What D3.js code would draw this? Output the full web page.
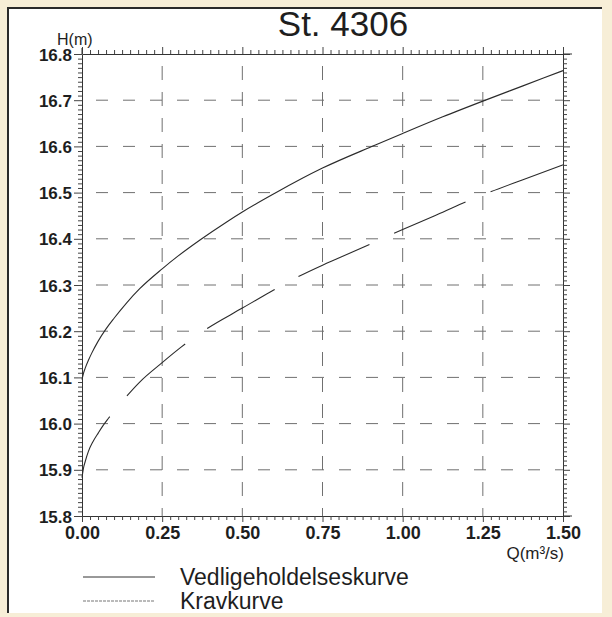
<!DOCTYPE html>
<html>
<head>
<meta charset="utf-8">
<script src="https://cdn.jsdelivr.net/npm/d3@7/dist/d3.min.js"></script>
<style>
  html, body { margin: 0; padding: 0; background: #f7eed7; }
  svg { display: block; }
  text { font-family: "Liberation Sans", Arial, sans-serif; fill: #1e1e1e; }
</style>
</head>
<body>
<svg id="chart" width="612" height="617"></svg>
<script>
// ---- data ----
const title = "St. 4306";
const seriesNames = ["Vedligeholdelseskurve", "Kravkurve"];

const qVed = [0, 0.005, 0.01, 0.02, 0.03, 0.05, 0.075, 0.1, 0.14, 0.18, 0.25, 0.3, 0.369, 0.45, 0.5, 0.6, 0.75, 0.915, 1.0, 1.125, 1.25, 1.375, 1.5];
const hVed = [16.095, 16.11, 16.12, 16.137, 16.152, 16.178, 16.205, 16.228, 16.262, 16.292, 16.335, 16.363, 16.398, 16.436, 16.458, 16.498, 16.553, 16.603, 16.628, 16.664, 16.698, 16.731, 16.764];

const qKrav = [0, 0.005, 0.01, 0.02, 0.035, 0.051, 0.065, 0.082, 0.1, 0.14, 0.18, 0.25, 0.31, 0.384, 0.5, 0.587, 0.66, 0.75, 0.806, 0.9, 1.0, 1.1, 1.187, 1.25, 1.375, 1.5];
const hKrav = [15.883, 15.905, 15.918, 15.94, 15.962, 15.98, 15.995, 16.011, 16.027, 16.06, 16.09, 16.132, 16.166, 16.203, 16.25, 16.285, 16.313, 16.343, 16.36, 16.389, 16.42, 16.45, 16.477, 16.495, 16.528, 16.56];

const xTickValues = [0, 0.25, 0.5, 0.75, 1.0, 1.25, 1.5];
const xTickLabels = ["0.00", "0.25", "0.50", "0.75", "1.00", "1.25", "1.50"];
const yTickValues = [15.8, 15.9, 16.0, 16.1, 16.2, 16.3, 16.4, 16.5, 16.6, 16.7, 16.8];
const yTickLabels = ["15.8", "15.9", "16.0", "16.1", "16.2", "16.3", "16.4", "16.5", "16.6", "16.7", "16.8"];
const xAxisTitle = "Q(m³/s)";
const yAxisTitle = "H(m)";

// ---- layout ----
const svg = d3.select("#chart");
const W = 612, H = 617;
const pL = 82, pR = 563, pT = 54, pB = 516;

// paper background
svg.append("rect").attr("x", 0).attr("y", 0).attr("width", W).attr("height", H).attr("fill", "#f7eed7");
svg.append("rect").attr("x", 7).attr("y", 7).attr("width", 595).attr("height", 606).attr("fill", "#ffffff");
svg.append("path").attr("d", "M8,613 L8,8 L602,8").attr("fill", "none").attr("stroke", "#2a2a2a").attr("stroke-width", 2);

const x = d3.scaleLinear().domain([0, 1.5]).range([pL, pR]);
const y = d3.scaleLinear().domain([15.8, 16.8]).range([pB, pT]);

// ---- grid ----
const grid = svg.append("g").attr("stroke", "#707070").attr("stroke-width", 1).attr("fill", "none");
yTickValues.slice(1, -1).forEach(v => {
  grid.append("line").attr("x1", x(0)).attr("x2", x(1.5)).attr("y1", y(v)).attr("y2", y(v))
    .attr("stroke-dasharray", "12,15").attr("stroke-dashoffset", -14);
});
xTickValues.slice(1, -1).forEach(v => {
  grid.append("line").attr("x1", x(v)).attr("x2", x(v)).attr("y1", y(16.8)).attr("y2", y(15.8))
    .attr("stroke-dasharray", "14,12").attr("stroke-dashoffset", -12);
});

// ---- axes ----
const minorY = d3.range(1, 100).filter(k => k % 10 !== 0).map(k => +(15.8 + k * 0.01).toFixed(2));
const minorX = d3.range(0, 61).map(k => +(k * 0.025).toFixed(3)).filter(v => Math.abs(v / 0.25 - Math.round(v / 0.25)) > 1e-6);

function styleAxis(g) {
  g.selectAll("path.domain").attr("stroke", "#333").attr("stroke-width", 1);
  g.selectAll(".tick line").attr("stroke", "#444").attr("stroke-width", 1);
}

// left minor
svg.append("g").attr("transform", `translate(${pL},0)`)
  .call(d3.axisLeft(y).tickValues(minorY).tickSize(4).tickSizeOuter(0).tickFormat(""))
  .call(styleAxis);
// left major + labels
svg.append("g").attr("transform", `translate(${pL},0)`)
  .call(d3.axisLeft(y).tickValues(yTickValues).tickSize(8).tickSizeOuter(0).tickPadding(2)
    .tickFormat((d, i) => yTickLabels[i]))
  .call(styleAxis)
  .call(g => g.select("path.domain").remove())
  .call(g => g.selectAll(".tick text").attr("font-size", 17).attr("fill", "#1e1e1e")
    .attr("font-family", "Liberation Sans, Arial, sans-serif").attr("font-weight", "bold").attr("dy", "0.36em"));

// right minor
svg.append("g").attr("transform", `translate(${pR},0)`)
  .call(d3.axisRight(y).tickValues(minorY).tickSize(4).tickSizeOuter(0).tickFormat(""))
  .call(styleAxis);
svg.append("g").attr("transform", `translate(${pR},0)`)
  .call(d3.axisRight(y).tickValues(yTickValues).tickSize(7).tickSizeOuter(0).tickFormat(""))
  .call(styleAxis).call(g => g.select("path.domain").remove());

// top minor + major
svg.append("g").attr("transform", `translate(0,${pT})`)
  .call(d3.axisTop(x).tickValues(minorX).tickSize(4).tickSizeOuter(0).tickFormat(""))
  .call(styleAxis);
svg.append("g").attr("transform", `translate(0,${pT})`)
  .call(d3.axisTop(x).tickValues(xTickValues).tickSize(7).tickSizeOuter(0).tickFormat(""))
  .call(styleAxis).call(g => g.select("path.domain").remove());

// bottom minor + major + labels
svg.append("g").attr("transform", `translate(0,${pB})`)
  .call(d3.axisBottom(x).tickValues(minorX).tickSize(4).tickSizeOuter(0).tickFormat(""))
  .call(styleAxis);
svg.append("g").attr("transform", `translate(0,${pB})`)
  .call(d3.axisBottom(x).tickValues(xTickValues).tickSize(6).tickSizeOuter(0).tickPadding(4)
    .tickFormat((d, i) => xTickLabels[i]))
  .call(styleAxis)
  .call(g => g.select("path.domain").remove())
  .call(g => g.selectAll(".tick text").attr("font-size", 18).attr("fill", "#1e1e1e")
    .attr("font-family", "Liberation Sans, Arial, sans-serif").attr("font-weight", "bold"));

// small axis line extensions seen in the scan
svg.append("line").attr("x1", pR).attr("x2", pR + 9).attr("y1", pT).attr("y2", pT).attr("stroke", "#333");
svg.append("line").attr("x1", pR).attr("x2", pR + 9).attr("y1", pB).attr("y2", pB).attr("stroke", "#333");
svg.append("line").attr("x1", pL).attr("x2", pL).attr("y1", pT - 6).attr("y2", pT).attr("stroke", "#333");

// ---- curves ----
const line = d3.line().x(d => x(d[0])).y(d => y(d[1])).curve(d3.curveMonotoneX);

svg.append("path")
  .datum(qVed.map((q, i) => [q, hVed[i]]))
  .attr("d", line).attr("fill", "none").attr("stroke", "#2b2b2b").attr("stroke-width", 1.1);

svg.append("path")
  .datum(qKrav.map((q, i) => [q, hKrav[i]]))
  .attr("d", line).attr("fill", "none").attr("stroke", "#2b2b2b").attr("stroke-width", 1.1)
  .attr("stroke-dasharray", "78,27").attr("stroke-dashoffset", 10);

// ---- texts ----
svg.append("text").attr("x", 343).attr("y", 36).attr("text-anchor", "middle")
  .attr("font-size", 35).attr("fill", "#1a1a1a").text(title);
svg.append("text").attr("x", 57).attr("y", 45).attr("font-size", 16).text(yAxisTitle);
svg.append("text").attr("x", 564).attr("y", 559).attr("text-anchor", "end").attr("font-size", 17).text(xAxisTitle);

// ---- legend ----
const legendY = [577, 601];
svg.append("line").attr("x1", 83).attr("x2", 155).attr("y1", legendY[0]).attr("y2", legendY[0])
  .attr("stroke", "#333").attr("stroke-width", 1);
svg.append("line").attr("x1", 83).attr("x2", 155).attr("y1", legendY[1]).attr("y2", legendY[1])
  .attr("stroke", "#777").attr("stroke-width", 1.2).attr("stroke-dasharray", "3,1");
seriesNames.forEach((name, i) => {
  svg.append("text").attr("x", 180).attr("y", legendY[i] + 8).attr("font-size", 23).attr("fill", "#1e1e1e").text(name);
});
</script>
</body>
</html>
